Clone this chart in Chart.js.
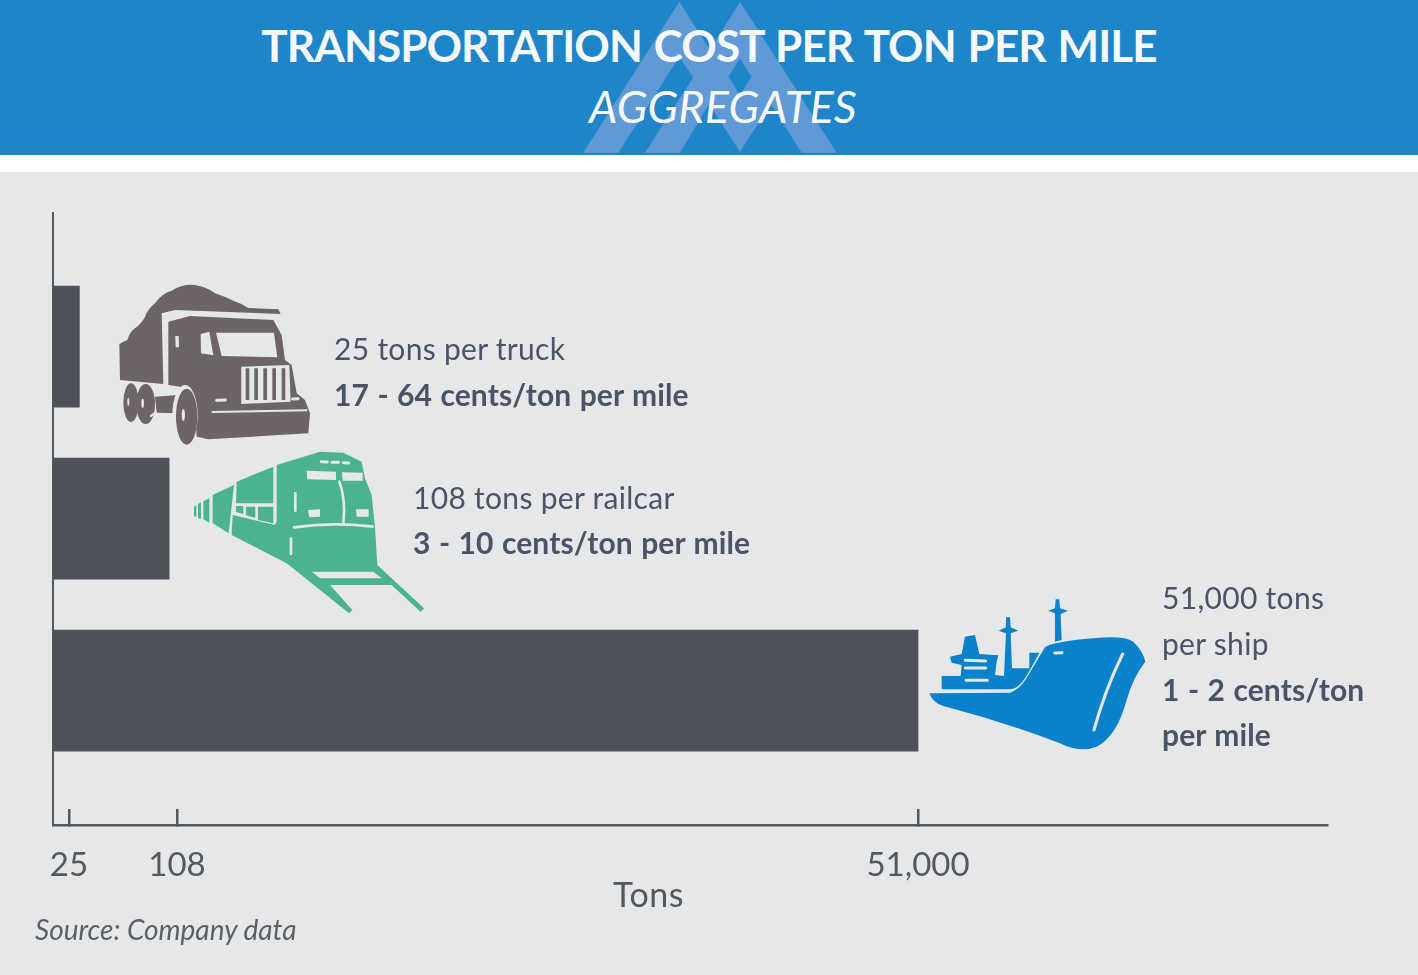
<!DOCTYPE html>
<html>
<head>
<meta charset="utf-8">
<title>Transportation cost per ton per mile</title>
<script src="https://cdn.jsdelivr.net/npm/chart.js@4/dist/chart.umd.min.js"></script>
<style>
    html, body { margin: 0; padding: 0; background: #e6e7e9; }
    #page { position: relative; width: 1418px; height: 975px; overflow: hidden; font-family: Lato, sans-serif; }
    #band { position: absolute; left: 0; top: 0; width: 1418px; height: 155px; background: #1e85c9; }
    #gap { position: absolute; left: 0; top: 155px; width: 1418px; height: 17px; background: #fff; }
    canvas { position: absolute; left: 0; top: 0; }
    svg { position: absolute; left: 0; top: 0; }
    .head { position: absolute; left: 0; width: 1418px; text-align: center; color: #f6f8fb; white-space: nowrap; }
    #title { top: 17px; font-size: 44px; font-weight: 700; line-height: 56px; left: 0; letter-spacing: -0.9px; word-spacing: 2px; }
    #subtitle { top: 78px; font-size: 45px; font-style: italic; font-weight: 400; line-height: 56px; left: 14px; letter-spacing: 0.2px; }
    .note { position: absolute; font-size: 30px; line-height: 36px; color: #4b5368; white-space: nowrap; letter-spacing: 0.3px; }
    .note b { font-weight: 700; letter-spacing: 0.1px; word-spacing: 1px; }
    #tons { position: absolute; left: 613px; top: 874px; font-size: 34px; line-height: 40px; color: #55585c; letter-spacing: 0.5px; }
    #source { position: absolute; left: 35px; top: 912px; font-size: 28px; line-height: 34px; font-style: italic; color: #5c5f64; }
</style>
</head>
<body>
<div id="page">
    <div id="band"></div>
    <div id="gap"></div>
    <svg width="1418" height="155">
        <g transform="translate(520,0) scale(0.3333)">
            <path fill="#5f9ad6" fill-rule="evenodd" d="M190 458 L478 5 L570 150 L660 5 L950 458 L845 458 L753 312 L660 455 L567 312 L480 458 L375 458 L520 232 L478 170 L295 458 Z M625 230 L660 175 L695 230 L660 285 Z"/>
        </g>
    </svg>
    <div class="head" id="title">TRANSPORTATION COST PER TON PER MILE</div>
    <div class="head" id="subtitle">AGGREGATES</div>

    <canvas id="chart" width="1418" height="975"></canvas>

    <svg width="1418" height="975" style="pointer-events:none">
        <!-- truck -->
        <g transform="translate(100,270) scale(0.3333)">
            <path fill="#6d6468" d="M58 222 Q70 215 82 210 Q90 185 105 175 Q125 160 135 140 Q145 115 165 100 Q185 70 215 62 Q250 40 285 45 Q320 50 345 70 Q375 80 400 92 Q425 100 445 114 L535 118 L542 132 L225 120 L185 130 L190 342 L60 330 Z"/>
            <path fill="#6d6468" d="M205 155 L270 138 L520 150 L545 195 L555 270 L575 285 L590 370 L615 390 L630 430 L625 490 L325 508 L290 500 L285 430 L240 350 L205 345 Z"/>
            <ellipse cx="93" cy="398" rx="23" ry="58" fill="#6d6468"/>
            <ellipse cx="137" cy="402" rx="28" ry="60" fill="#6d6468"/>
            <path fill="#6d6468" d="M165 380 L235 375 L235 430 L170 428 Z"/>
            <ellipse cx="255" cy="435" rx="38" ry="90" fill="#e6e7e9"/>
            <ellipse cx="260" cy="440" rx="32" ry="84" fill="#6d6468"/>
            <ellipse cx="250" cy="435" rx="5" ry="18" fill="#e6e7e9"/>
            <ellipse cx="85" cy="395" rx="3" ry="12" fill="#e6e7e9"/>
            <ellipse cx="128" cy="400" rx="4" ry="14" fill="#e6e7e9"/>
            <path fill="#e6e7e9" d="M348 188 L522 188 L532 262 L365 258 Z M302 192 L328 185 L340 256 L303 250 Z M226 198 L236 198 L237 232 L227 232 Z M424 290 L568 285 L572 395 L424 402 Z"/>
            <path fill="#6d6468" d="M437 295 L448 295 L448 390 L437 390 Z M463 295 L474 295 L474 390 L463 390 Z M490 295 L501 295 L501 390 L490 390 Z M517 295 L528 295 L528 390 L517 390 Z M545 295 L556 295 L556 390 L545 390 Z"/>
            <path fill="none" stroke="#e6e7e9" stroke-width="6" d="M335 426 L622 421"/>
            <path fill="none" stroke="#e6e7e9" stroke-width="9" stroke-linecap="round" d="M350 391 L376 390 M578 387 L594 386"/>
            <path fill="none" stroke="#e6e7e9" stroke-width="6" d="M160 350 L178 350 M150 440 L170 425"/>
        </g>
        <!-- train -->
        <g transform="translate(180,440) scale(0.3333)">
            <path fill="#4cb38f" d="M42 200 L49 195 L49 232 L42 228 Z M54 192 L63 187 L63 238 L54 233 Z M70 184 L88 174 L88 248 L70 238 Z M98 165 L162 135 L146 280 L98 250 Z"/>
            <path fill="#4cb38f" d="M170 125 L280 80 L280 190 L168 190 Z M168 198 L190 198 L190 222 L168 216 Z M198 200 L226 200 L226 234 L198 226 Z M234 200 L280 200 L280 250 L234 240 Z"/>
            <path fill="#4cb38f" d="M290 75 L420 35 L490 38 L545 65 L555 115 L575 165 L585 260 L592 375 L732 505 L722 516 L635 435 L450 435 L517 510 L507 520 L380 418 L320 370 L155 285 L158 225 L285 255 L290 245 Z"/>
            <path fill="none" stroke="#e6e7e9" stroke-width="8" stroke-linecap="round" d="M342 262 Q460 245 578 260 M478 125 Q498 180 490 248 M346 160 L346 212 M333 296 L333 342"/>
            <path fill="#e6e7e9" d="M380 92 L468 95 L468 120 L382 118 Z M486 97 L548 98 L548 122 L488 122 Z M384 210 L420 208 L420 230 L388 232 Z M528 208 L566 208 L566 230 L530 230 Z M395 395 L580 395 L606 415 L420 415 Z"/>
            <path fill="none" stroke="#e6e7e9" stroke-width="9" stroke-linecap="round" d="M424 65 L442 66 M456 67 L475 67 M490 68 L506 69"/>
        </g>
        <!-- ship -->
        <g transform="translate(920,590) scale(0.3333)">
            <path fill="#0a82cb" d="M65 298 L65 258 L122 258 L125 225 L95 218 L90 200 L125 192 L135 140 L165 135 L178 192 L235 196 L230 215 L225 255 L252 258 L258 130 L236 122 L258 112 L258 82 L270 82 L272 112 L295 122 L272 130 L276 235 L328 235 L328 188 L358 188 L325 250 Q300 295 272 298 Z"/>
            <path fill="#0a82cb" d="M405 155 L405 70 L385 62 L405 55 L407 28 L418 28 L420 55 L444 62 L422 72 L425 150 Z"/>
            <path fill="#0a82cb" stroke="#e6e7e9" stroke-width="6" d="M28 310 L270 308 Q300 300 325 255 L375 172 Q400 155 520 145 Q610 135 640 155 Q670 185 676 215 Q640 260 620 330 Q590 440 530 470 Q480 490 420 460 Q250 395 70 348 Q40 340 28 310 Z" paint-order="stroke"/>
            <path fill="none" stroke="#e6e7e9" stroke-width="9" stroke-linecap="round" d="M136 211 L197 213 M136 234 L197 234 M138 271 L202 271 M608 192 Q555 300 522 420 M404 189 L426 188"/>
        </g>
    </svg>

    <div class="note" style="left:334px;top:330px;">25 tons per truck</div>
    <div class="note" style="left:334px;top:376px;"><b>17 - 64 cents/ton per mile</b></div>
    <div class="note" style="left:413px;top:479px;">108 tons per railcar</div>
    <div class="note" style="left:413px;top:524px;"><b>3 - 10 cents/ton per mile</b></div>
    <div class="note" style="left:1162px;top:579px;">51,000 tons</div>
    <div class="note" style="left:1162px;top:625px;">per ship</div>
    <div class="note" style="left:1162px;top:671px;"><b>1 - 2 cents/ton</b></div>
    <div class="note" style="left:1162px;top:716px;"><b>per mile</b></div>

    <div id="tons">Tons</div>
    <div id="source">Source: Company data</div>
</div>

<script>
// Data
const categories = ['Truck', 'Railcar', 'Ship'];
const categoryIndex = [0, 1, 2];
// where the bars actually end against the printed axis, which is not to scale
const barTons = [33, 102, 51000];
const tickTons = [25, 108, 51000];

// Printed axis is piecewise: each labelled tick has its own stretch of the line
const axisStops = [0, 25, 108, 51000, 79000];
const axisShares = [0, 0.01256, 0.0973, 0.679, 1];

class TonScale extends Chart.LinearScale {
    static id = 'tonScale';
    static defaults = Chart.LinearScale.defaults;

    buildTicks() {
        return tickTons.map(value => ({ value }));
    }

    configure() {
        super.configure();
        this.min = axisStops[0];
        this.max = axisStops[axisStops.length - 1];
    }

    getPixelForValue(value) {
        let i = 1;
        while (i < axisStops.length - 1 && value > axisStops[i]) i++;
        const t = (value - axisStops[i - 1]) / (axisStops[i] - axisStops[i - 1]);
        const share = axisShares[i - 1] + t * (axisShares[i] - axisShares[i - 1]);
        return this.getPixelForDecimal(share);
    }
}
Chart.register(TonScale);

const axisColor = '#55585c';

new Chart(document.getElementById('chart'), {
    type: 'bar',
    data: {
        labels: categories,
        datasets: [{
            label: 'Tons',
            data: categoryIndex.map((y, i) => ({ x: barTons[i], y })),
            backgroundColor: '#4d5159',
            barThickness: 121
        }]
    },
    options: {
        indexAxis: 'y',
        responsive: false,
        animation: false,
        layout: { padding: { left: 53, right: 91, top: 213, bottom: 0 } },
        plugins: { legend: { display: false }, tooltip: { enabled: false } },
        scales: {
            x: {
                type: 'tonScale',
                afterFit(scale) { scale.height = 150; },
                border: { display: true, color: axisColor, width: 2.5 },
                grid: { drawOnChartArea: false, color: axisColor, lineWidth: 2.5, tickLength: -16 },
                ticks: {
                    color: axisColor,
                    padding: 37,
                    maxRotation: 0,
                    autoSkip: false,
                    font: { family: 'Lato', size: 33 },
                    callback: value => value.toLocaleString('en-US')
                }
            },
            y: {
                type: 'linear',
                offset: false,
                reverse: true,
                min: -0.777,
                max: 2.781,
                afterFit(scale) { scale.width = 0; },
                border: { display: true, color: axisColor, width: 2 },
                grid: { display: false, offset: false },
                ticks: { display: false }
            }
        }
    }
});
</script>
</body>
</html>
